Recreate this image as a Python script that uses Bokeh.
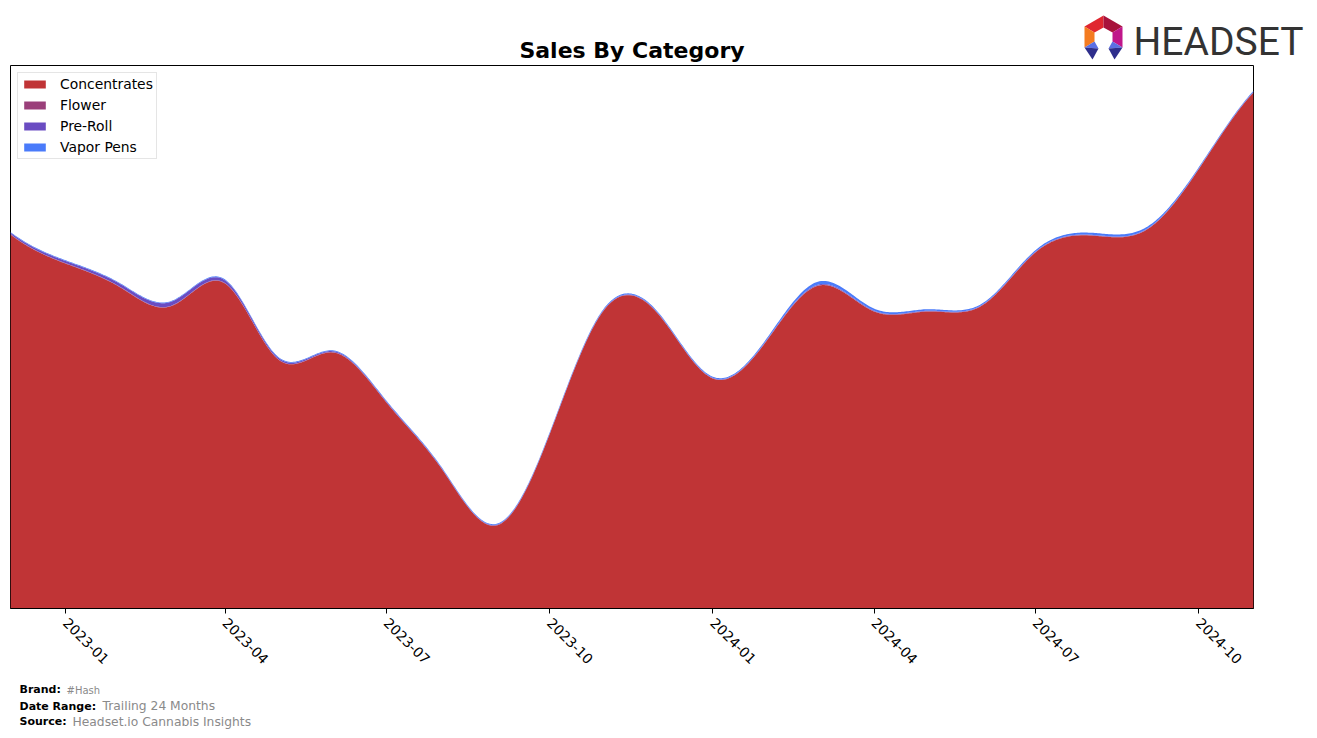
import math
import numpy as np
import pandas as pd
from bokeh.plotting import figure
from bokeh.models import ColumnDataSource, Range1d, FixedTicker, DatetimeTickFormatter
from bokeh.core.properties import value
from bokeh.embed import file_html
from bokeh.resources import INLINE

# ---------------- data (monthly) ----------------
months = ["2022-12", "2023-01", "2023-02", "2023-03", "2023-04", "2023-05",
          "2023-06", "2023-07", "2023-08", "2023-09", "2023-10", "2023-11",
          "2023-12", "2024-01", "2024-02", "2024-03", "2024-04", "2024-05",
          "2024-06", "2024-07", "2024-08", "2024-09", "2024-10", "2024-11"]
concentrates = [374, 345, 321, 302, 325, 249, 256, 206, 140, 83, 174, 299,
                295, 230, 269, 323, 297, 297, 303, 356, 373, 378, 439, 516]
flower = [0.4, 0.4, 0.4, 0.4, 0.4, 0.3, 0.3, 0.3, 0.3, 0.3, 0.3, 0.3,
          0.3, 0.3, 0.3, 0.3, 0.3, 0.3, 0.3, 0.3, 0.3, 0.3, 0.3, 0.3]
pre_roll = [1.5, 2.2, 3.0, 4.0, 2.8, 1.5, 1.0, 0.8, 0.6, 0.5, 0.5, 0.5,
            0.5, 0.5, 0.6, 0.8, 0.6, 0.5, 0.5, 0.5, 0.5, 0.4, 0.4, 0.4]
vapor_pens = [0.6, 0.7, 0.7, 0.7, 0.8, 0.8, 0.8, 0.8, 0.8, 0.8, 0.9, 1.0,
              1.0, 1.0, 1.5, 3.0, 2.0, 1.5, 1.2, 1.5, 2.0, 2.0, 1.2, 1.0]
categories = ["Concentrates", "Flower", "Pre-Roll", "Vapor Pens"]
colors = ["#C03436", "#9A3F7A", "#6A4CC2", "#4A7BFA"]
tick_labels = ["2023-01", "2023-04", "2023-07", "2023-10",
               "2024-01", "2024-04", "2024-07", "2024-10"]

series = [concentrates, flower, pre_roll, vapor_pens]

W = 1317


# ---------------- smooth rendering (not-a-knot cubic spline) ----------------
def spline_curve(xd, yd, xf):
    n = len(xd)
    h = np.diff(xd)
    m = n - 1
    A = np.zeros((4 * m, 4 * m))
    b = np.zeros(4 * m)
    r = 0
    for i in range(m):
        A[r, 4 * i] = 1
        b[r] = yd[i]
        r += 1
        A[r, 4 * i:4 * i + 4] = [1, h[i], h[i] ** 2, h[i] ** 3]
        b[r] = yd[i + 1]
        r += 1
    for i in range(m - 1):
        A[r, 4 * i + 1:4 * i + 4] = [1, 2 * h[i], 3 * h[i] ** 2]
        A[r, 4 * (i + 1) + 1] = -1
        r += 1
        A[r, 4 * i + 2:4 * i + 4] = [2, 6 * h[i]]
        A[r, 4 * (i + 1) + 2] = -2
        r += 1
    A[r, 3] = 1
    A[r, 7] = -1
    r += 1
    A[r, 4 * (m - 2) + 3] = 1
    A[r, 4 * (m - 1) + 3] = -1
    coef = np.linalg.solve(A, b).reshape(m, 4)
    idx = np.clip(np.searchsorted(xd, xf, side="right") - 1, 0, m - 1)
    t = xf - xd[idx]
    c = coef[idx]
    return c[:, 0] + c[:, 1] * t + c[:, 2] * t ** 2 + c[:, 3] * t ** 3


dates = pd.to_datetime([m + "-01" for m in months])
xd = ((dates - dates[0]) / pd.Timedelta(days=1)).to_numpy(dtype=float)
xf = np.linspace(xd[0], xd[-1], 800)
data = {"x": dates[0] + pd.to_timedelta(xf, unit="D")}
for name, vals in zip(categories, series):
    data[name] = np.maximum(spline_curve(xd, np.array(vals, dtype=float), xf), 0)
src = ColumnDataSource(data)


def canvas(height, top, bottom):
    f = figure(width=W, height=height, x_range=Range1d(0, W), y_range=Range1d(bottom, top),
               output_backend="svg", toolbar_location=None,
               x_axis_location=None, y_axis_location=None,
               min_border=0, min_border_left=0, min_border_right=0,
               min_border_top=0, min_border_bottom=0)
    f.outline_line_color = None
    f.xgrid.visible = False
    f.ygrid.visible = False
    f.background_fill_color = "white"
    f.border_fill_color = "white"
    return f


BASE_SHIFT = 0.32  # compensation of the rendered baseline, in em


def put_text(f, x, y, text, size_px, bold=False, color="black", font="DejaVu Sans", align="left"):
    f.text(x=[x], y=[y - BASE_SHIFT * size_px], text=[text], text_font=value(font),
           text_font_size=value(f"{size_px}px"),
           text_font_style=value("bold" if bold else "normal"), text_color=color,
           text_baseline=value("alphabetic"), text_align=value(align))


# ---------------- header: title + logo ----------------
header = canvas(64, 0, 64)
put_text(header, 631.5, 57, "Sales By Category", 22, bold=True, align="center")
logo_parts = [
    ([1084, 1103, 1103, 1094], [26, 15, 27, 32], "#E0262F"),
    ([1103, 1122, 1112, 1103], [15, 26, 32, 27], "#A8123C"),
    ([1122, 1122, 1112, 1112], [26, 47, 41, 32], "#C0168A"),
    ([1084, 1084, 1094, 1094], [26, 47, 41, 32], "#F47B20"),
    ([1084, 1094, 1098], [47, 41, 48], "#5B6FE3"),
    ([1084, 1098, 1092], [47, 48, 59], "#2E2E8C"),
    ([1122, 1112, 1108], [47, 41, 48], "#5B6FE3"),
    ([1122, 1108, 1114], [47, 48, 59], "#2E2E8C"),
]
header.patches(xs=[a for a, b, c in logo_parts], ys=[b for a, b, c in logo_parts],
               fill_color=[c for a, b, c in logo_parts], line_color=None)
put_text(header, 1133, 53.5, "HEADSET", 39, color="#333333", font="Roboto")

# ---------------- main chart ----------------
p = figure(width=W, height=614, x_axis_type="datetime", y_axis_location=None,
           x_range=Range1d(dates[0], dates[-1]), y_range=Range1d(0, 543),
           output_backend="svg", toolbar_location=None,
           min_border_left=10, min_border_right=W - 1253, min_border_top=1, min_border_bottom=70)
p.background_fill_color = "white"
p.border_fill_color = "white"
p.outline_line_color = "black"
p.outline_line_width = 1
p.xgrid.visible = False
p.ygrid.visible = False

p.varea_stack(stackers=categories, x="x", color=colors, legend_label=categories, source=src)

tick_ms = [pd.Timestamp(t + "-01").value / 1e6 for t in tick_labels]
p.xaxis.ticker = FixedTicker(ticks=tick_ms, minor_ticks=[])
fmt = "%Y-%m"
p.xaxis.formatter = DatetimeTickFormatter(days=fmt, months=fmt, years=fmt, hours=fmt,
                                          minutes=fmt, seconds=fmt, milliseconds=fmt,
                                          microseconds=fmt, hourmin=fmt, minsec=fmt)
p.xaxis.major_label_orientation = -math.pi / 4
p.xaxis.major_label_text_font = "DejaVu Sans"
p.xaxis.major_label_text_font_size = "13.9px"
p.xaxis.major_label_text_color = "black"
p.xaxis.major_tick_in = 0
p.xaxis.major_tick_out = 5
p.xaxis.major_tick_line_color = "black"
p.xaxis.axis_line_color = "black"
p.xaxis.major_label_standoff = 7

lg = p.legend[0]
lg.location = "top_left"
lg.margin = 7
lg.padding = 3
lg.spacing = 5
lg.glyph_width = 27
lg.glyph_height = 10
lg.label_height = 16
lg.label_standoff = 12
lg.label_text_font = "DejaVu Sans"
lg.label_text_font_size = "13.9px"
lg.label_text_color = "black"
lg.border_line_color = "#cccccc"
lg.border_line_width = 1
lg.background_fill_alpha = 0.8

# ---------------- footer ----------------
footer = canvas(738 - 678, 678, 738)
grey = "#8a8a8a"
put_text(footer, 19, 693, "Brand:", 11, bold=True)
put_text(footer, 66, 693, "#Hash", 10, color=grey)
put_text(footer, 19, 709.5, "Date Range:", 11, bold=True)
put_text(footer, 102, 709.5, "Trailing 24 Months", 12.3, color=grey)
put_text(footer, 19, 725, "Source:", 11, bold=True)
put_text(footer, 72, 725, "Headset.io Cannabis Insights", 12.3, color=grey)

open("out.html", "w").write(file_html([header, p, footer], INLINE))
